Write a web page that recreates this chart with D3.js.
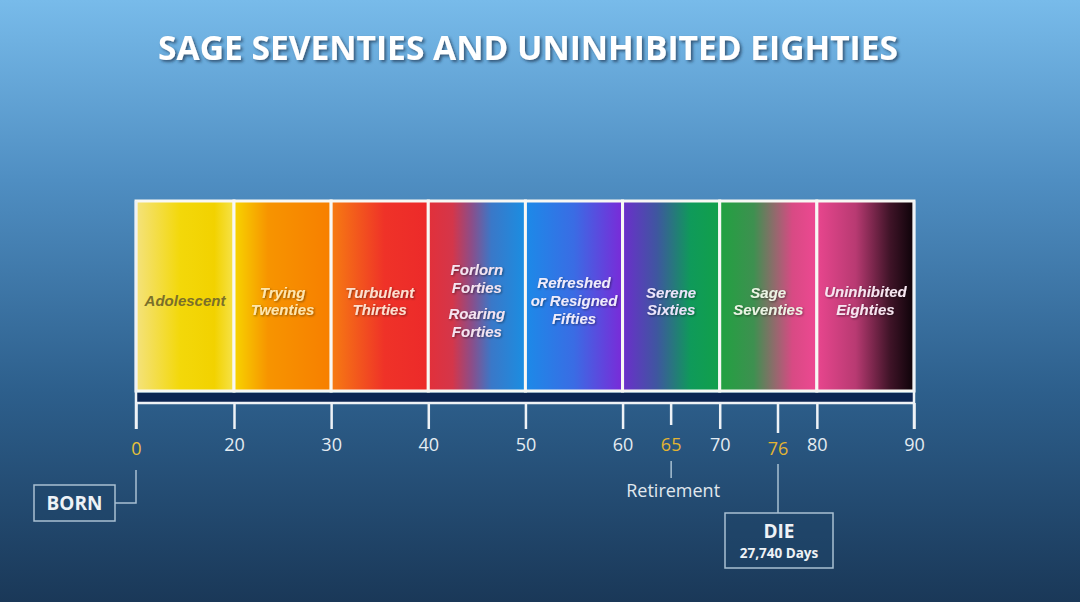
<!DOCTYPE html>
<html>
<head>
    <title>Sage Seventies and Uninhibited Eighties</title>
    <script src="https://d3js.org/d3.v7.min.js"></script>
    <style>
        body { margin: 0; background: #1c3a5a; }
        svg { display: block; }
    </style>
</head>
<body>
    <svg id="life-viz" width="1080" height="602"></svg>

    <script>
    // life stages
    var stageLines = [
        ["Adolescent"],
        ["Trying", "Twenties"],
        ["Turbulent", "Thirties"],
        ["Forlorn", "Forties", "Roaring", "Forties"],
        ["Refreshed", "or Resigned", "Fifties"],
        ["Serene", "Sixties"],
        ["Sage", "Seventies"],
        ["Uninhibited", "Eighties"]
    ];
    var stageStart = [0, 20, 30, 40, 50, 60, 70, 80];
    var stageEnd   = [20, 30, 40, 50, 60, 70, 80, 90];
    // gradient stops per stage: [offset, colour]
    var stageColors = [
        [[0, "#f4e27c"], [0.45, "#f3d80a"], [0.8, "#f2d200"], [1, "#f6e24a"]],
        [[0, "#f7d400"], [0.35, "#f79400"], [1, "#f77f00"]],
        [[0, "#f67c12"], [0.55, "#ef3228"], [1, "#ec2a2a"]],
        [[0, "#e2303a"], [0.25, "#d4364a"], [0.45, "#8a4e8a"], [0.65, "#3a78c8"], [1, "#1a8ee2"]],
        [[0, "#1c8ae8"], [0.5, "#3a6ce4"], [1, "#7a2ad8"]],
        [[0, "#6c2ecc"], [0.35, "#3f56a0"], [0.7, "#0f9a5a"], [1, "#12a04a"]],
        [[0, "#20a240"], [0.35, "#3e9050"], [0.75, "#d84a84"], [1, "#ee4892"]],
        [[0, "#e8468e"], [0.4, "#b83a72"], [0.75, "#401428"], [1, "#0c0208"]]
    ];
    var stageTextColor = ["#7a6f2a", "#fde6b0", "#fbe0d0", "#f4e4f0", "#f0ecfa", "#ece4fa", "#ecf4e4", "#f6e6f0"];

    var tickValues = [0, 20, 30, 40, 50, 60, 70, 80, 90];
    var markValues = [65, 76];
    var markNotes = ["Retirement", "DIE"];
    var dieDays = "27,740 Days";

    var svg = d3.select("#life-viz");
    var defs = svg.append("defs");

    // background
    var bg = defs.append("linearGradient").attr("id", "bg")
        .attr("x1", 0).attr("y1", 0).attr("x2", 0).attr("y2", 1);
    bg.append("stop").attr("offset", 0).attr("stop-color", "#78bbea");
    bg.append("stop").attr("offset", 0.3).attr("stop-color", "#4f8ec2");
    bg.append("stop").attr("offset", 0.65).attr("stop-color", "#2d5f8c");
    bg.append("stop").attr("offset", 1).attr("stop-color", "#1a3858");
    svg.append("rect").attr("width", 1080).attr("height", 602).attr("fill", "url(#bg)");

    var shadow = defs.append("filter").attr("id", "shadow")
        .attr("x", "-5%").attr("y", "-20%").attr("width", "110%").attr("height", "150%");
    shadow.append("feDropShadow").attr("dx", 2).attr("dy", 2).attr("stdDeviation", 1.5)
        .attr("flood-color", "#1a3050").attr("flood-opacity", 0.7);

    var txtShadow = defs.append("filter").attr("id", "txtShadow");
    txtShadow.append("feDropShadow").attr("dx", 1).attr("dy", 1).attr("stdDeviation", 0.8)
        .attr("flood-color", "#000").attr("flood-opacity", 0.45);

    // title
    svg.append("text")
        .attr("x", 528).attr("y", 60)
        .attr("text-anchor", "middle")
        .attr("font-family", "'Open Sans', sans-serif")
        .attr("font-weight", 700)
        .attr("font-size", 34)
        .attr("textLength", 740)
        .attr("lengthAdjust", "spacingAndGlyphs")
        .attr("fill", "#ffffff")
        .attr("filter", "url(#shadow)")
        .text("SAGE SEVENTIES AND UNINHIBITED EIGHTIES");

    // piecewise scale: 0-20 is squeezed to a decade's width
    var xScale = d3.scaleLinear()
        .domain([0, 20, 90])
        .range([136, 234, 914]);

    var barTop = 201, barBottom = 391;

    stageColors.forEach(function(stops, i) {
        var g = defs.append("linearGradient").attr("id", "stage" + i)
            .attr("x1", 0).attr("y1", 0).attr("x2", 1).attr("y2", 0);
        stops.forEach(function(s) {
            g.append("stop").attr("offset", s[0]).attr("stop-color", s[1]);
        });
    });

    var stages = stageLines.map(function(lines, i) {
        return { lines: lines, start: stageStart[i], end: stageEnd[i], i: i };
    });

    svg.selectAll("rect.stage")
        .data(stages)
        .enter()
        .append("rect")
        .attr("class", "stage")
        .attr("x", function(d) { return xScale(d.start); })
        .attr("y", barTop)
        .attr("width", function(d) { return xScale(d.end) - xScale(d.start); })
        .attr("height", barBottom - barTop)
        .attr("fill", function(d) { return "url(#stage" + d.i + ")"; })
        .attr("stroke", "#f8f8f4")
        .attr("stroke-width", 3);

    // stage labels
    var lineGap = [0, 17, 17, 18.5, 18, 17, 17, 18];
    svg.selectAll("text.stage")
        .data(stages)
        .enter()
        .append("text")
        .attr("class", "stage")
        .attr("text-anchor", "middle")
        .attr("font-family", "'Liberation Sans', Arial, sans-serif")
        .attr("font-weight", 700)
        .attr("font-style", "italic")
        .attr("font-size", 15)
        .attr("fill", function(d) { return stageTextColor[d.i]; })
        .attr("filter", function(d) { return d.i === 0 ? null : "url(#txtShadow)"; })
        .each(function(d) {
            var t = d3.select(this);
            var cx = (xScale(d.start) + xScale(d.end)) / 2;
            var n = d.lines.length;
            var gap = lineGap[d.i];
            var extra = n === 4 ? 7 : 0;
            var y0 = 306 - (n - 1) * gap / 2 - extra / 2;
            if (d.i === 0) y0 = 306;
            d.lines.forEach(function(line, k) {
                t.append("tspan")
                    .attr("x", cx)
                    .attr("y", y0 + k * gap + (k >= 2 ? extra : 0))
                    .text(line);
            });
        });

    // dark band under the bar
    svg.append("rect")
        .attr("x", xScale(0)).attr("y", barBottom + 2)
        .attr("width", xScale(90) - xScale(0)).attr("height", 9)
        .attr("fill", "#0c2552");

    // axis
    var axisY = 403;
    var axis = d3.axisBottom(xScale)
        .tickValues(tickValues)
        .tickSize(26)
        .tickPadding(12)
        .tickFormat(d3.format("d"));

    var axisG = svg.append("g")
        .attr("transform", "translate(0," + axisY + ")")
        .call(axis);
    axisG.select(".domain")
        .attr("stroke", "#eef2f6").attr("stroke-width", 2.5)
        .attr("d", "M" + xScale(0) + ",0H" + xScale(90));
    axisG.selectAll(".tick line").attr("stroke", "#eef2f6").attr("stroke-width", 2.5);
    axisG.selectAll(".tick text")
        .attr("font-family", "'Open Sans', sans-serif")
        .attr("font-size", 18)
        .attr("fill", "#e4ecf2")
        .attr("dy", "0.55em")
        .filter(function(d) { return d === 0; })
        .attr("fill", "#e8c23a")
        .attr("dy", "0.8em");

    // frame edges
    svg.append("line")
        .attr("x1", xScale(0)).attr("x2", xScale(0))
        .attr("y1", barTop).attr("y2", axisY + 26)
        .attr("stroke", "#eef2f6").attr("stroke-width", 2.5);
    svg.append("line")
        .attr("x1", xScale(90)).attr("x2", xScale(90))
        .attr("y1", barTop).attr("y2", axisY + 26)
        .attr("stroke", "#eef2f6").attr("stroke-width", 2.5);

    // special marks
    var marks = svg.selectAll("g.mark")
        .data(markValues)
        .enter()
        .append("g")
        .attr("class", "mark");
    marks.append("line")
        .attr("x1", function(d) { return xScale(d); })
        .attr("x2", function(d) { return xScale(d); })
        .attr("y1", axisY)
        .attr("y2", function(d, i) { return axisY + (i === 0 ? 22 : 30); })
        .attr("stroke", "#eef2f6").attr("stroke-width", 2.5);
    marks.append("text")
        .attr("x", function(d) { return xScale(d); })
        .attr("y", function(d, i) { return i === 0 ? 451 : 455; })
        .attr("text-anchor", "middle")
        .attr("font-family", "'Open Sans', sans-serif")
        .attr("font-size", 18)
        .attr("fill", "#e2b432")
        .text(function(d) { return d; });

    var lineColor = "#a9c0d2";

    // retirement
    svg.append("line")
        .attr("x1", xScale(markValues[0])).attr("x2", xScale(markValues[0]))
        .attr("y1", 461).attr("y2", 478)
        .attr("stroke", lineColor).attr("stroke-width", 1.5);
    svg.append("text")
        .attr("x", xScale(markValues[0]) + 2).attr("y", 497)
        .attr("text-anchor", "middle")
        .attr("font-family", "'Open Sans', sans-serif")
        .attr("font-size", 18)
        .attr("fill", "#e0e8ee")
        .text(markNotes[0]);

    // born
    svg.append("path")
        .attr("d", "M" + xScale(0) + ",470V503H115")
        .attr("fill", "none")
        .attr("stroke", lineColor).attr("stroke-width", 1.5);
    svg.append("rect")
        .attr("x", 34).attr("y", 485).attr("width", 81).attr("height", 36)
        .attr("fill", "#1e4468").attr("fill-opacity", 0.5)
        .attr("stroke", lineColor).attr("stroke-width", 1.5);
    svg.append("text")
        .attr("x", 74.5).attr("y", 510)
        .attr("text-anchor", "middle")
        .attr("font-family", "'Open Sans', sans-serif")
        .attr("font-weight", 700)
        .attr("font-size", 19)
        .attr("fill", "#eef2f6")
        .text("BORN");

    // die
    svg.append("line")
        .attr("x1", xScale(markValues[1])).attr("x2", xScale(markValues[1]))
        .attr("y1", 464).attr("y2", 513)
        .attr("stroke", lineColor).attr("stroke-width", 1.5);
    svg.append("rect")
        .attr("x", 725).attr("y", 513).attr("width", 108).attr("height", 55)
        .attr("fill", "#1e4468").attr("fill-opacity", 0.5)
        .attr("stroke", lineColor).attr("stroke-width", 1.5);
    svg.append("text")
        .attr("x", 779).attr("y", 538)
        .attr("text-anchor", "middle")
        .attr("font-family", "'Open Sans', sans-serif")
        .attr("font-weight", 700)
        .attr("font-size", 19)
        .attr("fill", "#eef2f6")
        .text(markNotes[1]);
    svg.append("text")
        .attr("x", 779).attr("y", 558)
        .attr("text-anchor", "middle")
        .attr("font-family", "'Open Sans', sans-serif")
        .attr("font-weight", 700)
        .attr("font-size", 13.5)
        .attr("fill", "#eef2f6")
        .text(dieDays);
    </script>
</body>
</html>
